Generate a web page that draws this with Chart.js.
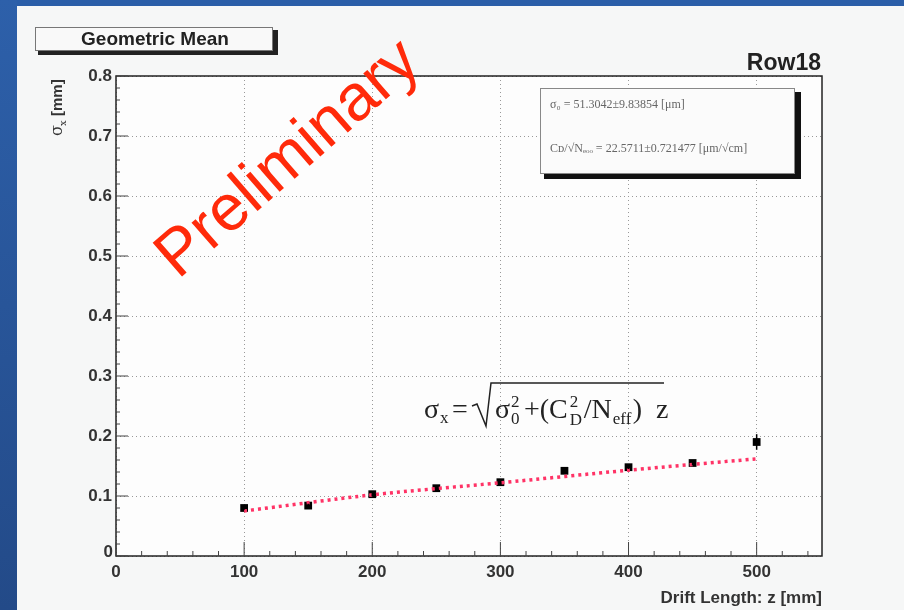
<!DOCTYPE html>
<html>
<head>
<meta charset="utf-8">
<script src="https://cdn.jsdelivr.net/npm/chart.js@4"></script>
<style>
  html, body { margin: 0; padding: 0; background: #2b5ea8; }
  #wrap { width: 904px; height: 610px; position: relative; }
</style>
</head>
<body>
<div id="wrap"><canvas id="c" width="904" height="610"></canvas></div>
<script>
// values
const driftZ = [100, 150, 200, 250, 300, 350, 400, 450, 500];
const sigmaX = [0.080, 0.084, 0.103, 0.113, 0.123, 0.142, 0.148, 0.155, 0.190];
const sigmaErr = [0.003, 0.003, 0.003, 0.003, 0.003, 0.003, 0.003, 0.004, 0.013];
const fitZ = [100, 200, 300, 400, 500];
const fitSigma = [0.075, 0.102, 0.122, 0.143, 0.162];
const xTicks = [0, 100, 200, 300, 400, 500];
const yTicks = [0, 0.1, 0.2, 0.3, 0.4, 0.5, 0.6, 0.7, 0.8];

const TICK_FONT = 'bold 17px "Liberation Sans", Arial, sans-serif';

// background, frame, inward ROOT-style ticks, labels
const rootDecor = {
  id: 'rootDecor',
  beforeDraw(chart) {
    const ctx = chart.ctx;
    ctx.save();
    ctx.fillStyle = '#2b5ea8';
    ctx.fillRect(0, 0, 904, 610);
    const g = ctx.createLinearGradient(0, 0, 0, 610);
    g.addColorStop(0, '#2d60aa');
    g.addColorStop(1, '#234a88');
    ctx.fillStyle = g;
    ctx.fillRect(0, 0, 17, 610);
    ctx.fillStyle = '#f6f7f7';
    ctx.fillRect(17, 6, 887, 604);
    const a = chart.chartArea;
    ctx.fillStyle = '#fdfdfd';
    ctx.fillRect(a.left, a.top, a.right - a.left, a.bottom - a.top);
    ctx.restore();
  },
  afterDatasetsDraw(chart) {
    const ctx = chart.ctx;
    const a = chart.chartArea;
    const xs = chart.scales.x, ys = chart.scales.y;
    ctx.save();

    // error bars
    ctx.strokeStyle = '#000';
    ctx.lineWidth = 1.5;
    driftZ.forEach((z, i) => {
      const px = xs.getPixelForValue(z);
      ctx.beginPath();
      ctx.moveTo(px, ys.getPixelForValue(sigmaX[i] - sigmaErr[i]));
      ctx.lineTo(px, ys.getPixelForValue(sigmaX[i] + sigmaErr[i]));
      ctx.stroke();
    });

    // frame
    ctx.strokeStyle = '#222';
    ctx.lineWidth = 1.5;
    ctx.strokeRect(a.left, a.top, a.right - a.left, a.bottom - a.top);

    // y ticks
    ctx.lineWidth = 1;
    ctx.strokeStyle = '#444';
    for (let v = 0; v <= 0.8001; v += 0.02) {
      const py = ys.getPixelForValue(v);
      const major = Math.abs(v * 10 - Math.round(v * 10)) < 1e-6;
      const mid = Math.abs(v * 20 - Math.round(v * 20)) < 1e-6;
      const len = major ? 12 : (mid ? 7 : 4);
      ctx.beginPath();
      ctx.moveTo(a.left, py);
      ctx.lineTo(a.left + len, py);
      ctx.stroke();
    }
    // x ticks
    for (let v = 0; v <= 550; v += 20) {
      const px = xs.getPixelForValue(v);
      const major = v % 100 === 0;
      const mid = v % 50 === 0;
      const len = major ? 14 : (mid ? 8 : 5);
      ctx.beginPath();
      ctx.moveTo(px, a.bottom);
      ctx.lineTo(px, a.bottom - len);
      ctx.stroke();
    }

    // tick labels
    ctx.fillStyle = '#333';
    ctx.font = TICK_FONT;
    ctx.textAlign = 'right';
    ctx.textBaseline = 'middle';
    yTicks.forEach(v => {
      if (v === 0) return;
      ctx.fillText(v.toFixed(1), a.left - 4, ys.getPixelForValue(v));
    });
    ctx.fillText('0', a.left - 3, a.bottom - 4);
    ctx.textAlign = 'center';
    ctx.textBaseline = 'top';
    xTicks.forEach(v => {
      ctx.fillText(String(v), xs.getPixelForValue(v), a.bottom + 8);
    });

    // axis titles
    ctx.textAlign = 'right';
    ctx.textBaseline = 'alphabetic';
    ctx.font = 'bold 17px "Liberation Sans", Arial, sans-serif';
    ctx.fillText('Drift Length: z [mm]', a.right, 603);

    ctx.save();
    ctx.translate(62, 136);
    ctx.rotate(-Math.PI / 2);
    ctx.textAlign = 'left';
    ctx.font = '16px "DejaVu Serif", serif';
    ctx.fillText('σ', 0, 0);
    ctx.font = '10px "DejaVu Serif", serif';
    ctx.fillText('x', 10, 4);
    ctx.font = 'bold 15px "Liberation Sans", Arial, sans-serif';
    ctx.fillText('[mm]', 20, 0);
    ctx.restore();

    // Geometric Mean label box
    ctx.fillStyle = '#222';
    ctx.fillRect(38, 30, 240, 25);
    ctx.fillStyle = '#f9f9f9';
    ctx.fillRect(35, 27, 238, 24);
    ctx.strokeStyle = '#777';
    ctx.lineWidth = 1;
    ctx.strokeRect(35.5, 27.5, 237, 23);
    ctx.fillStyle = '#222';
    ctx.font = 'bold 19px "Liberation Sans", Arial, sans-serif';
    ctx.textAlign = 'center';
    ctx.textBaseline = 'middle';
    ctx.fillText('Geometric Mean', 155, 40);

    // Row18
    ctx.textAlign = 'right';
    ctx.textBaseline = 'alphabetic';
    ctx.font = 'bold 23px "Liberation Sans", Arial, sans-serif';
    ctx.fillText('Row18', 821, 70);

    // fit stats box
    ctx.fillStyle = '#111';
    ctx.fillRect(544, 92, 257, 87);
    ctx.fillStyle = '#fbfbfb';
    ctx.fillRect(540, 88, 255, 86);
    ctx.strokeStyle = '#888';
    ctx.strokeRect(540.5, 88.5, 254, 85);
    ctx.fillStyle = '#666';
    ctx.textAlign = 'left';
    ctx.font = '12px "Liberation Serif", serif';
    ctx.fillText('σ\u2080 = 51.3042±9.83854 [μm]', 550, 108);
    ctx.fillText('C\u1D05/√N\u2091\u2092\u2092 = 22.5711±0.721477 [μm/√cm]', 550, 152);

    // formula
    drawFormula(ctx, 424, 418);

    // Preliminary stamp
    ctx.save();
    ctx.translate(178, 280);
    ctx.rotate(-41 * Math.PI / 180);
    ctx.fillStyle = '#ff2a0a';
    ctx.font = '65px "Liberation Sans", Arial, sans-serif';
    ctx.textAlign = 'left';
    ctx.fillText('Preliminary', 0, 0);
    ctx.restore();

    ctx.restore();
  }
};

function drawFormula(ctx, x, y) {
  ctx.fillStyle = '#222';
  ctx.strokeStyle = '#222';
  ctx.textAlign = 'left';
  ctx.textBaseline = 'alphabetic';
  const big = '28px "Liberation Serif", serif';
  const small = '17px "Liberation Serif", serif';
  ctx.font = big; ctx.fillText('σ', x, y);
  ctx.font = small; ctx.fillText('x', x + 16, y + 5);
  ctx.font = big; ctx.fillText('=', x + 28, y);
  // radical
  ctx.lineWidth = 1.5;
  ctx.beginPath();
  ctx.moveTo(x + 48, y - 12);
  ctx.lineTo(x + 53, y - 14);
  ctx.lineTo(x + 62, y + 8);
  ctx.lineTo(x + 67, y - 35);
  ctx.lineTo(x + 240, y - 35);
  ctx.stroke();
  let cx = x + 71;
  ctx.font = big; ctx.fillText('σ', cx, y);
  ctx.font = small; ctx.fillText('2', cx + 16, y - 11); ctx.fillText('0', cx + 16, y + 6);
  cx += 29;
  ctx.font = big; ctx.fillText('+(C', cx, y);
  cx += ctx.measureText('+(C').width;
  ctx.font = small; ctx.fillText('2', cx + 2, y - 11); ctx.fillText('D', cx + 2, y + 7);
  cx += 16;
  ctx.font = big; ctx.fillText('/N', cx, y);
  cx += ctx.measureText('/N').width;
  ctx.font = small; ctx.fillText('eff', cx + 1, y + 6);
  cx += 21;
  ctx.font = big; ctx.fillText(')  z', cx, y);
}

new Chart(document.getElementById('c'), {
  type: 'scatter',
  data: {
    datasets: [
      {
        label: 'fit',
        type: 'line',
        data: fitZ.map((z, i) => ({ x: z, y: fitSigma[i] })),
        borderColor: '#ff3366',
        borderWidth: 3.5,
        borderDash: [3, 4],
        pointRadius: 0,
        fill: false,
        tension: 0.3
      },
      {
        label: 'data',
        data: driftZ.map((z, i) => ({ x: z, y: sigmaX[i] })),
        pointStyle: 'rect',
        pointRadius: 5.5,
        backgroundColor: '#000',
        borderColor: '#000',
        borderWidth: 0
      }
    ]
  },
  options: {
    responsive: false,
    animation: false,
    layout: { padding: { left: 0, top: 76, right: 82, bottom: 0 } },
    plugins: { legend: { display: false }, tooltip: { enabled: false } },
    scales: {
      x: {
        type: 'linear',
        min: 0,
        max: 551,
        afterBuildTicks: s => { s.ticks = xTicks.map(v => ({ value: v })); },
        afterFit: s => { s.height = 54; },
        ticks: { display: false },
        grid: { color: '#999', drawTicks: false, lineWidth: 1 },
        border: { display: false, dash: [1, 3] }
      },
      y: {
        type: 'linear',
        min: 0,
        max: 0.8,
        afterBuildTicks: s => { s.ticks = yTicks.map(v => ({ value: v })); },
        afterFit: s => { s.width = 116; },
        ticks: { display: false },
        grid: { color: '#999', drawTicks: false, lineWidth: 1 },
        border: { display: false, dash: [1, 3] }
      }
    }
  },
  plugins: [rootDecor]
});
</script>
</body>
</html>
